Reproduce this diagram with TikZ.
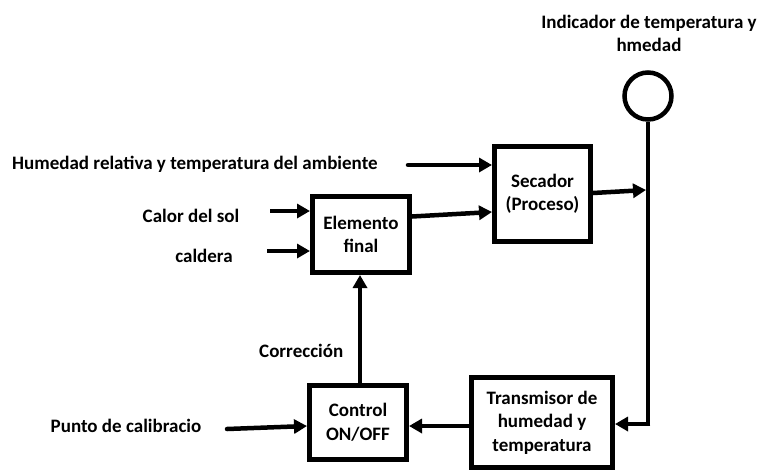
\documentclass[tikz,border=0pt]{standalone}
\usepackage{fontspec}
\setmainfont{Carlito}
\usetikzlibrary{arrows.meta,calc}
\begin{document}
\begin{tikzpicture}[x=1pt,y=-1pt,
  blk/.style={draw=black,line width=5pt,fill=white,align=center,inner sep=0pt,font=\bfseries\fontsize{19}{23.5}\selectfont},
  lbl/.style={font=\bfseries\fontsize{19}{23.5}\selectfont,inner sep=0pt,align=center},
  conn/.style={line width=4.5pt,-{Triangle[length=13pt,width=14pt]}},
  wire/.style={line width=4.5pt}]
\useasboundingbox (0,0) rectangle (757,472);
\node[blk,minimum width=97pt,minimum height=76pt] (elem) at (361,234.5) {Elemento\\final};
\node[blk,minimum width=96pt,minimum height=95pt] (sec) at (542.5,194) {Secador\\(Proceso)};
\node[blk,minimum width=97pt,minimum height=74pt] (ctl) at (358,422.5) {Control\\ON/OFF};
\node[blk,minimum width=141pt,minimum height=90pt] (tra) at (542,422.5) {Transmisor de\\humedad y\\temperatura};
\node[draw=black,line width=4.5pt,circle,minimum size=47pt,inner sep=0pt] (ind) at (648,96) {};
\node[lbl] (indt) at (649,33.5) {Indicador de temperatura y\\hmedad};
\node[lbl,anchor=west] (hum) at (12,164) {Humedad relativa y temperatura del ambiente};
\node[lbl] (cal) at (191,216) {Calor del sol};
\node[lbl] (cald) at (204,256) {caldera};
\node[lbl] (pun) at (126,426) {Punto de calibracio};
\node[lbl,anchor=west] (cor) at (259,351) {Corrección};
\coordinate (humS) at (408,165);
\coordinate (calS) at (270,211);
\coordinate (caldS) at (267,251);
\coordinate (punS) at (227,429);
\coordinate (junc) at (648,190);
\coordinate (corner) at (648,424);
\draw[conn,line cap=round] (humS) -- (sec.west |- humS);
\draw[conn] (calS) -- (elem.west |- calS);
\draw[conn] (caldS) -- (elem.west |- caldS);
\draw[conn] ($(elem.east)+(0,-18)$) -- ($(sec.west)+(0,18)$);
\draw[conn] ($(sec.east)+(0,-1)$) -- ($(junc)+(-2,0)$);
\draw[wire] (ind.south) -- (corner);
\draw[conn] ($(corner)+(2.25,0)$) -- (tra.east |- corner);
\draw[conn] (tra.west |- 0,426) -- (ctl.east |- 0,426);
\draw[conn,line cap=round] (punS) -- (ctl.west |- 0,426);
\draw[conn] (ctl.north -| 360,0) -- (elem.south -| 360,0);
\end{tikzpicture}
\end{document}
